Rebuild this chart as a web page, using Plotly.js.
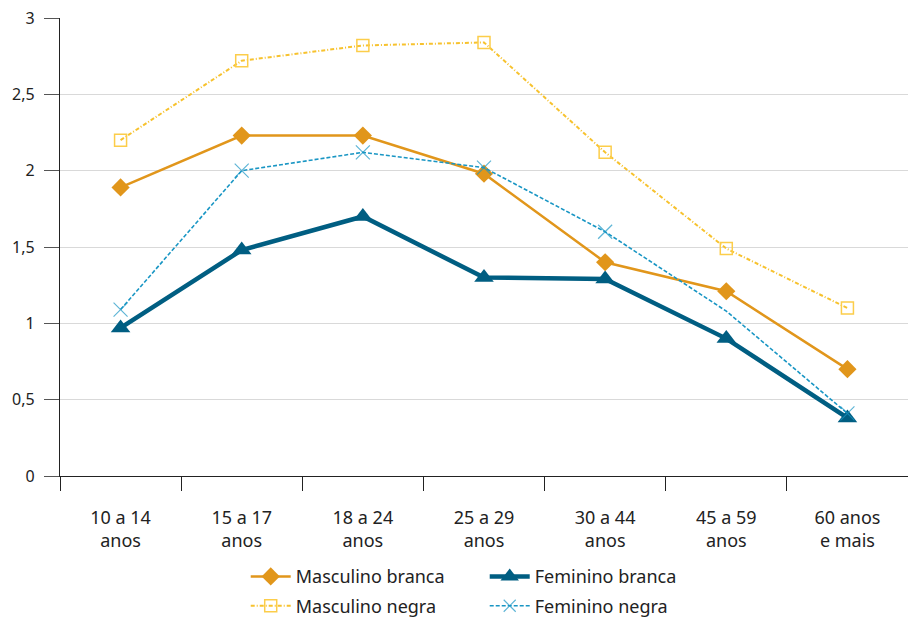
<!DOCTYPE html>
<html>
<head>
<meta charset="utf-8">
<script src="https://cdn.plot.ly/plotly-3.0.1.min.js"></script>
<style>html,body{margin:0;padding:0;background:#fff;}#chart{width:908px;height:619px;}</style>
</head>
<body>
<div id="chart"></div>
<script>
const categories = ["10 a 14<br>anos", "15 a 17<br>anos", "18 a 24<br>anos", "25 a 29<br>anos", "30 a 44<br>anos", "45 a 59<br>anos", "60 anos<br>e mais"];
const masculinoBranca = [1.89, 2.23, 2.23, 1.98, 1.40, 1.21, 0.70];
const femininoBranca = [0.97, 1.48, 1.70, 1.30, 1.29, 0.90, 0.38];
const masculinoNegra = [2.20, 2.72, 2.82, 2.84, 2.12, 1.49, 1.10];
const femininoNegra = [1.09, 2.00, 2.12, 2.02, 1.60, 1.08, 0.41];
const femininoNegraMarkerSize = [14, 14, 14, 14, 14, 0, 14];
const yTicks = [0, 0.5, 1, 1.5, 2, 2.5, 3];

const fontFam = "Noto Sans, Open Sans, sans-serif";

const traces = [
  {x: categories, y: masculinoBranca, name: "Masculino branca", mode: "lines+markers", type: "scatter",
   line: {color: "#E1961B", width: 2.5},
   marker: {symbol: "diamond", size: 14, color: "#E1961B"}, legend: "legend"},
  {x: categories, y: femininoBranca, name: "Feminino branca", mode: "lines+markers", type: "scatter",
   line: {color: "#005E82", width: 4.5},
   marker: {symbol: "triangle-up", size: 17, color: "#005E82"}, legend: "legend"},
  {x: categories, y: masculinoNegra, name: "Masculino negra", mode: "lines+markers", type: "scatter",
   line: {color: "#F7C22E", width: 2, dash: "4px,2px,1px,2px"},
   marker: {symbol: "square-open", size: 12, color: "#FCCD4A", line: {width: 1.5, color: "#FCCD4A"}}, legend: "legend2"},
  {x: categories, y: femininoNegra, name: "Feminino negra", mode: "lines+markers", type: "scatter",
   line: {color: "#1996C4", width: 1.6, dash: "4px,2px"},
   marker: {symbol: "x-thin-open", size: femininoNegraMarkerSize, color: "#1996C4", line: {width: 1.2, color: "#1996C4"}}, legend: "legend2"}
];

const legendFont = {family: fontFam, size: 18, color: "#222"};

const layout = {
  width: 908, height: 619,
  margin: {l: 60, r: 0, t: 18, b: 143, autoexpand: false},
  paper_bgcolor: "#fff", plot_bgcolor: "#fff",
  font: {family: fontFam, size: 16, color: "#222"},
  separators: ",.",
  showlegend: true,
  xaxis: {
    type: "category", range: [-0.5, 6.5],
    showgrid: false, showline: true, linecolor: "#222", linewidth: 1.2,
    ticks: "outside", tickson: "boundaries", ticklen: 14, tickcolor: "#222", tickwidth: 1,
    ticklabelstandoff: 25,
    tickfont: {family: fontFam, size: 18, color: "#222"}
  },
  yaxis: {
    range: [0, 3], tickvals: yTicks, ticktext: yTicks.map(v => String(v).replace(".", ",")),
    showgrid: true, gridcolor: "#D9D9D9", gridwidth: 1,
    showline: true, linecolor: "#222", linewidth: 1.2, zeroline: false,
    ticks: "outside", ticklen: 15, tickcolor: "#555", tickwidth: 1,
    ticklabelstandoff: 6,
    tickfont: {family: fontFam, size: 16, color: "#222"}
  },
  legend: {orientation: "h", x: 0.219, xanchor: "left", y: -0.22, yanchor: "middle",
    entrywidth: 184, entrywidthmode: "pixels", itemwidth: 40, font: legendFont,
    traceorder: "normal", bgcolor: "rgba(0,0,0,0)"},
  legend2: {orientation: "h", x: 0.219, xanchor: "left", y: -0.284, yanchor: "middle",
    entrywidth: 184, entrywidthmode: "pixels", itemwidth: 40, font: legendFont,
    traceorder: "normal", bgcolor: "rgba(0,0,0,0)"}
};

Plotly.newPlot("chart", traces, layout, {displayModeBar: false, staticPlot: true});
</script>
</body>
</html>
